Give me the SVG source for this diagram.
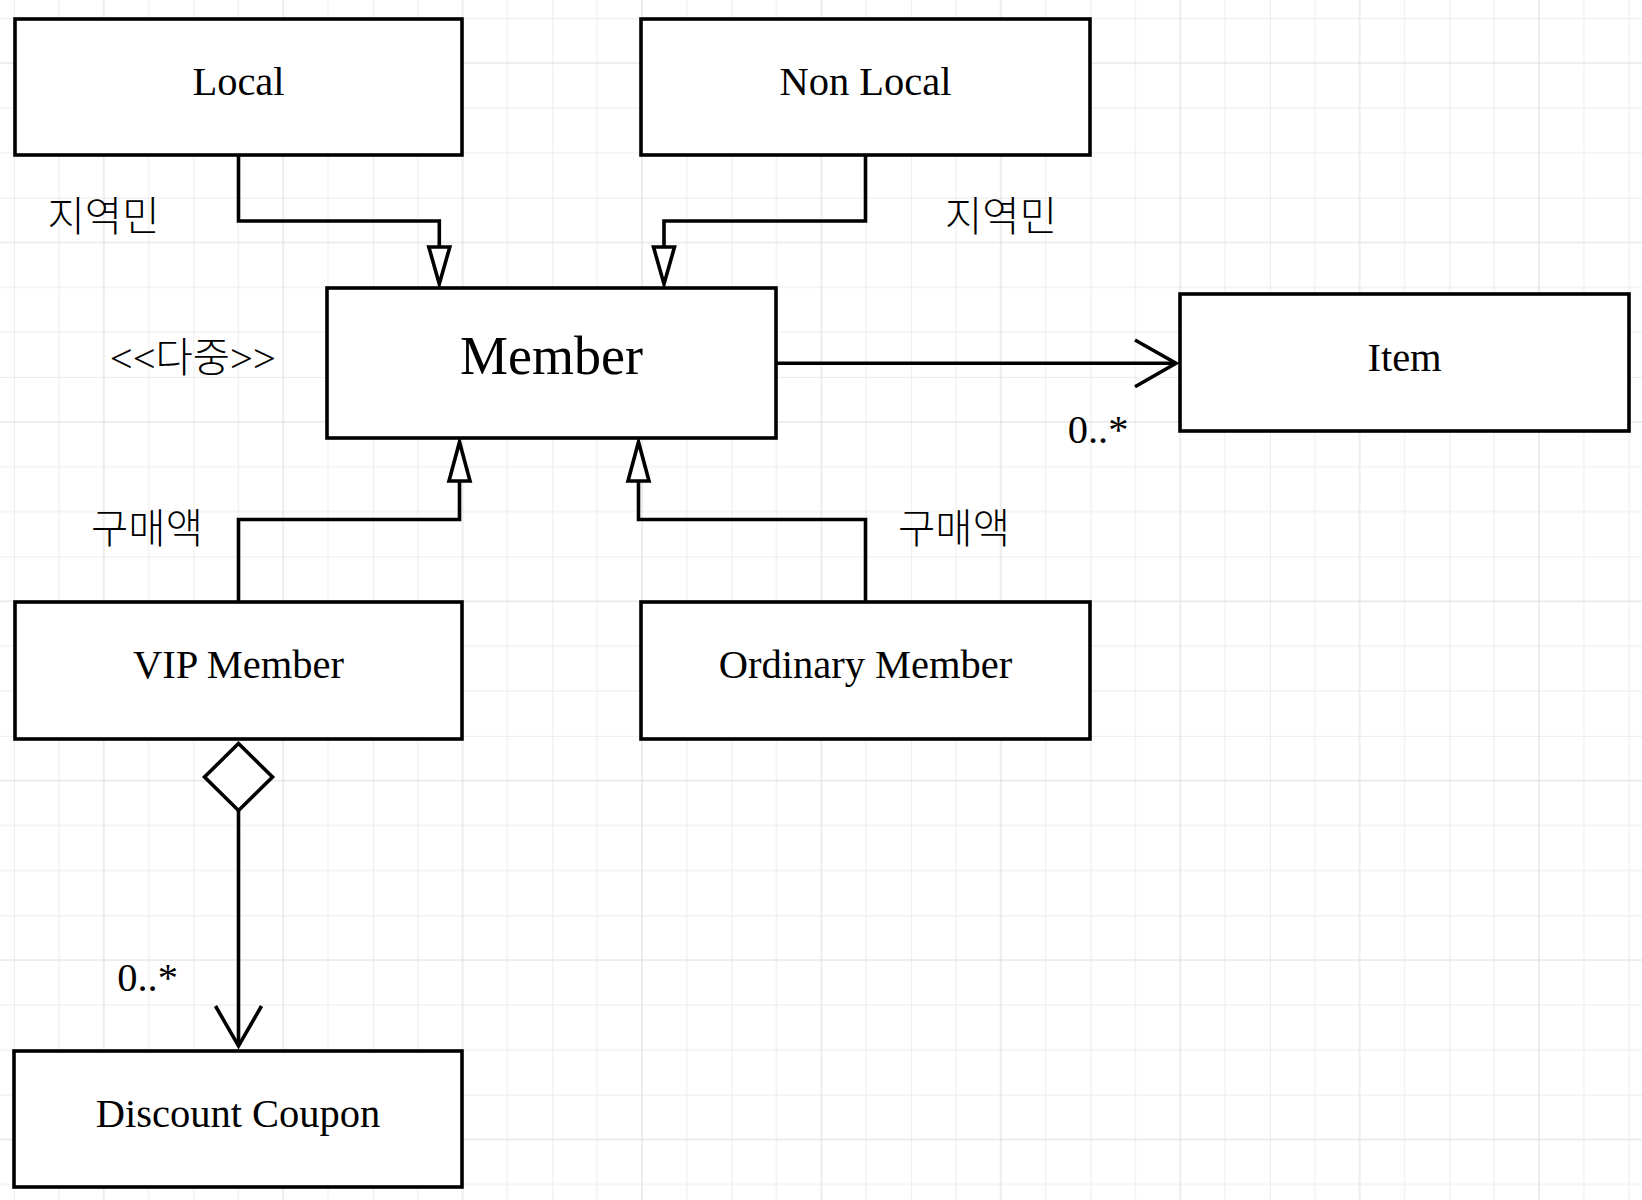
<svg xmlns="http://www.w3.org/2000/svg" width="1642" height="1200" viewBox="0 0 1642 1200">
<defs>
<pattern id="grid" patternUnits="userSpaceOnUse" x="14.1" y="18.25" width="179.4" height="179.4">
<path d="M0.5,0 V179.4 M44.85,0 V179.4 M134.55,0 V179.4 M0,0.5 H179.4 M0,89.7 H179.4 M0,134.55 H179.4" stroke="#ececec" stroke-width="1" fill="none"/>
<path d="M89.7,0 V179.4 M0,44.85 H179.4" stroke="#dcdcdc" stroke-width="1" fill="none"/>
</pattern>
<style>
.box{fill:#fff;stroke:#000;stroke-width:3.6}
.lbl{font-family:"Liberation Serif","Noto Sans CJK KR",serif;font-size:40.5px;fill:#000;text-anchor:middle}
.ko{font-weight:300}
.big{font-size:54px}
.ln{fill:none;stroke:#000;stroke-width:3.6;stroke-linejoin:miter}
.tri{fill:#fff;stroke:#000;stroke-width:3.6;stroke-linejoin:miter}
</style>
</defs>
<rect width="1642" height="1200" fill="#fff"/>
<rect width="1642" height="1200" fill="url(#grid)"/>

<g id="connectors">
<path class="ln" d="M238.5,156 V221 H439.3 V247"/>
<polygon class="tri" points="428.8,247 449.8,247 439.3,284"/>
<path class="ln" d="M865.5,156 V221 H664 V247"/>
<polygon class="tri" points="653.5,247 674.5,247 664,284"/>
<path class="ln" d="M238.5,602 V519.5 H459.5 V481"/>
<polygon class="tri" points="449,481 470,481 459.5,442"/>
<path class="ln" d="M865.5,602 V519.5 H638.5 V481"/>
<polygon class="tri" points="628,481 649,481 638.5,442"/>
<path class="ln" d="M776,363.3 H1176"/>
<polyline class="ln" points="1135,340 1176,363.3 1135,386.7"/>
<polygon class="tri" points="238.5,743.5 272.5,777 238.5,810.5 204.5,777"/>
<path class="ln" d="M238.5,810.5 V1046"/>
<polyline class="ln" points="215.5,1006 238.5,1046 261.5,1006"/>
</g>

<g id="labels">
<text class="lbl ko" x="103.5" y="231">지역민</text>
<text class="lbl ko" x="1001" y="231">지역민</text>
<text class="lbl ko" x="192.8" y="372">&lt;&lt;다중&gt;&gt;</text>
<text class="lbl ko" x="147" y="543">구매액</text>
<text class="lbl ko" x="954" y="543">구매액</text>
<text class="lbl" x="1098" y="443">0..*</text>
<text class="lbl" x="147.5" y="991">0..*</text>
</g>

<g id="local"><rect class="box" x="15" y="19" width="447" height="136"/><text class="lbl" x="238.5" y="95">Local</text></g>
<g id="nonlocal"><rect class="box" x="641" y="19" width="449" height="136"/><text class="lbl" x="865.5" y="95">Non Local</text></g>
<g id="member"><rect class="box" x="327" y="288" width="449" height="150"/><text class="lbl big" x="551.5" y="374">Member</text></g>
<g id="item"><rect class="box" x="1180" y="294" width="449" height="137"/><text class="lbl" x="1404.5" y="370.5">Item</text></g>
<g id="vip"><rect class="box" x="15" y="602" width="447" height="137"/><text class="lbl" x="238.5" y="678">VIP Member</text></g>
<g id="ordinary"><rect class="box" x="641" y="602" width="449" height="137"/><text class="lbl" x="865.5" y="678">Ordinary Member</text></g>
<g id="coupon"><rect class="box" x="14" y="1051" width="448" height="136"/><text class="lbl" x="238" y="1127">Discount Coupon</text></g>
</svg>
